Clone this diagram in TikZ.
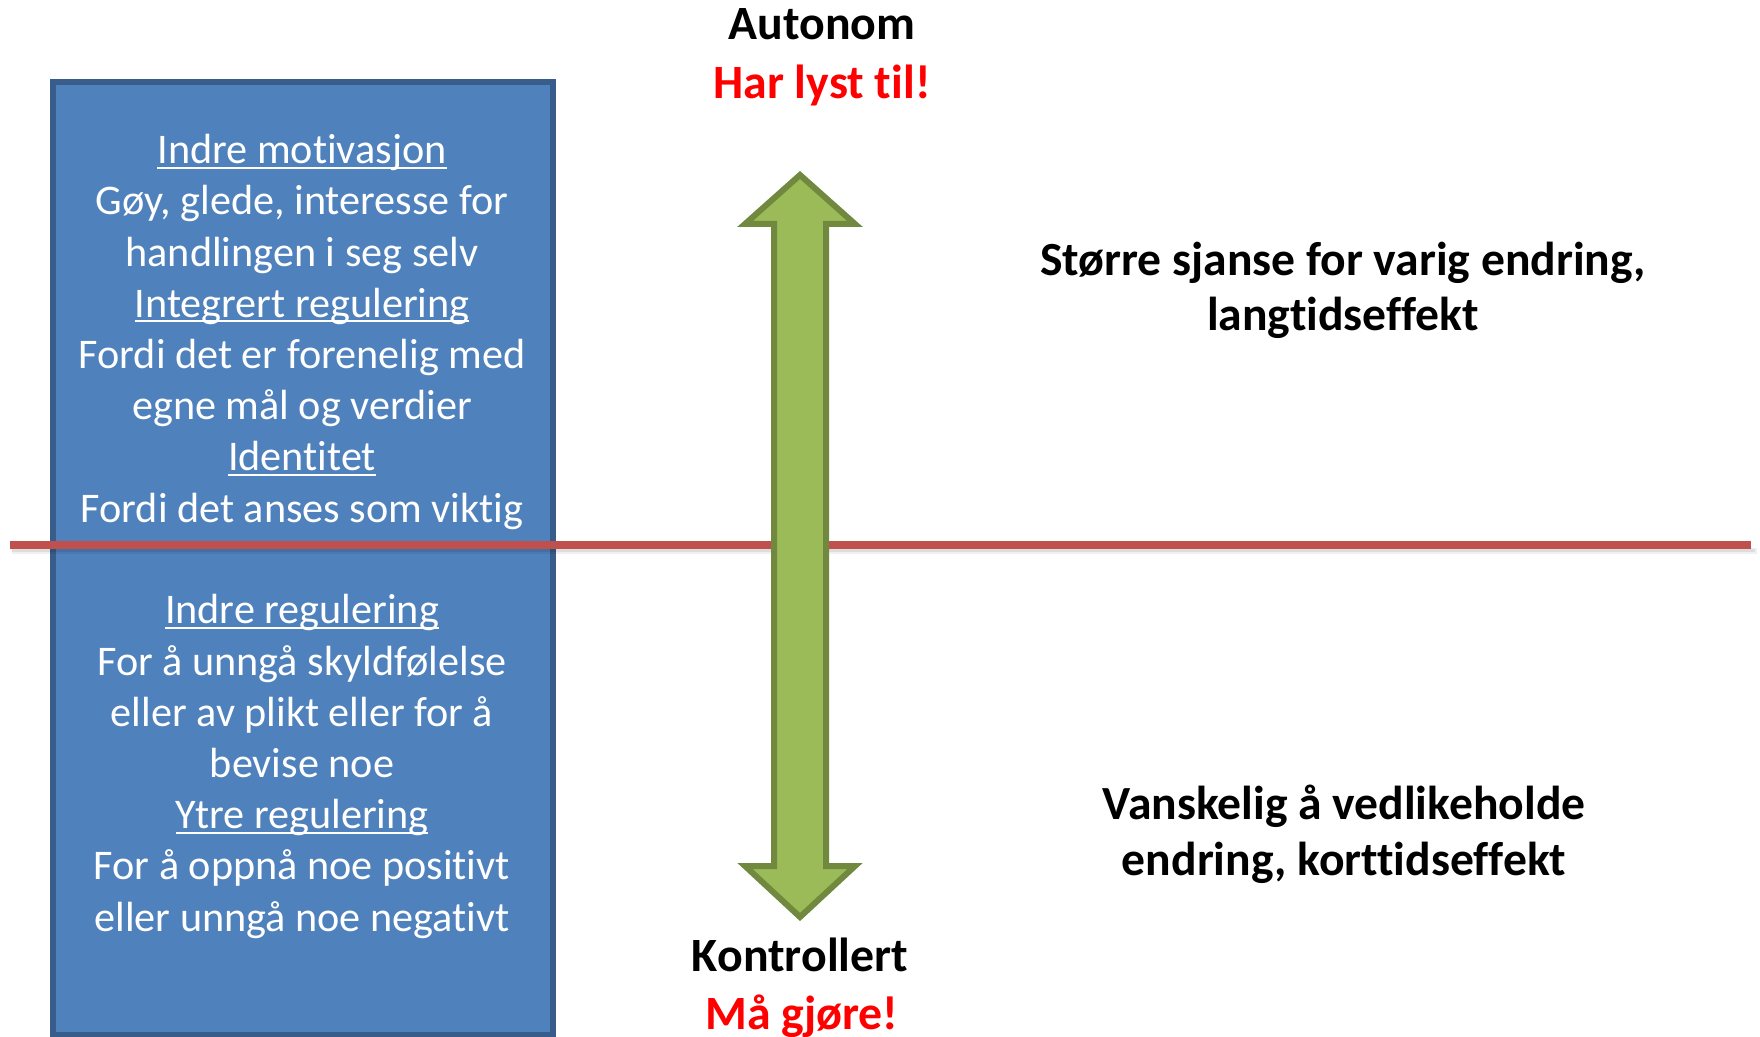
\documentclass[tikz,border=0pt]{standalone}
\usepackage{fontspec}
\setmainfont[Ligatures={NoCommon}]{Carlito}
\newsavebox\ulbox
\newcommand{\ulx}[1]{\sbox\ulbox{#1}\rlap{\rule[-2.6pt]{\wd\ulbox}{1pt}}\usebox\ulbox}
\definecolor{boxfill}{HTML}{4F81BD}
\definecolor{boxline}{HTML}{385D8A}
\definecolor{arrfill}{HTML}{9BBB59}
\definecolor{arrline}{HTML}{71893F}
\definecolor{redline}{HTML}{C0504D}
\definecolor{redtext}{HTML}{FF0000}
\tikzset{
  boxstyle/.style={draw=boxline, fill=boxfill, line width=3pt},
  arrowstyle/.style={draw=arrline, fill=arrfill, line width=3pt, line join=miter},
  divider/.style={draw=redline, line width=4pt},
  boxtext/.style={text=white, align=center, inner sep=0pt, anchor=base, font=\fontsize{21.1}{25.6}\selectfont},
  headtext/.style={inner sep=0pt, anchor=base, font=\bfseries\fontsize{23.9}{28}\selectfont},
  sidetext/.style={inner sep=0pt, anchor=base, align=center, font=\bfseries\fontsize{23.8}{28}\selectfont}
}
\begin{document}
\begin{tikzpicture}[x=0.5pt,y=-0.5pt]
\useasboundingbox (0,0) rectangle (1760,1037);
% blue box
\draw[boxstyle] (53,82) rectangle (553,1035);
% red divider with soft shadow
\coordinate (dl) at (10,545);
\coordinate (dr) at (1751,545);
\draw[line width=3pt, black, opacity=0.06] ([yshift=-3pt,xshift=1pt]dl) -- ([yshift=-3pt,xshift=3pt]dr);
\draw[line width=1.5pt, black, opacity=0.08] ([yshift=-2.5pt,xshift=1pt]dl) -- ([yshift=-2.5pt,xshift=2pt]dr);
\draw[divider] (dl) -- (dr);
% green double arrow
\draw[arrowstyle] (800,175) -- (855,224) -- (826,224) -- (826,866) -- (855,866)
  -- (800,917) -- (745,866) -- (774,866) -- (774,224) -- (745,224) -- cycle;
% box texts (base anchor = last line's baseline)
\node[boxtext] (upper) at (302,522) {\ulx{Indre motivasjon}\\
Gøy, glede, interesse for\\
handlingen i seg selv\\
\ulx{Integrert regulering}\\
Fordi det er forenelig med\\
egne mål og verdier\\
\ulx{Identitet}\\
Fordi det anses som viktig};
\node[boxtext] (lower) at (302,931) {\ulx{Indre regulering}\\
For å unngå skyldfølelse\\
eller av plikt eller for å\\
bevise noe\\
\ulx{Ytre regulering}\\
For å oppnå noe positivt\\
eller unngå noe negativt};
% arrow labels
\node[headtext] (auto) at (822,40) {Autonom};
\node[headtext, text=redtext] (lyst) at (822,99) {Har lyst til!};
\node[headtext] (kontr) at (800,971) {Kontrollert};
\node[headtext, text=redtext] (maa) at (802,1029) {Må gjøre!};
% side texts
\node[sidetext] (long) at (1343,331) {Større sjanse for varig endring,\\langtidseffekt};
\node[sidetext] (short) at (1344,875) {Vanskelig å vedlikeholde\\endring, korttidseffekt};
\end{tikzpicture}
\end{document}
